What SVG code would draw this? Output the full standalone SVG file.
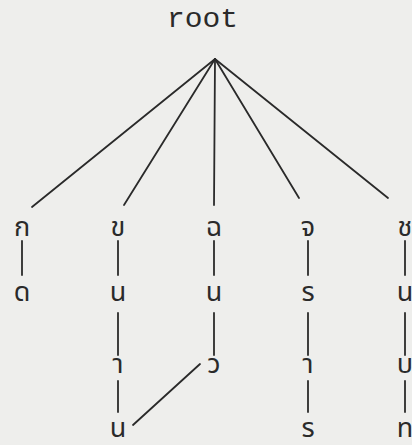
<svg xmlns="http://www.w3.org/2000/svg" width="412" height="445" viewBox="0 0 412 445">
<style>
.bg{fill:#eeeeec}
.e{stroke:#2a2a2a;stroke-width:1.8;fill:none;stroke-linecap:round}
.t{font-family:"Noto Sans Thai","Noto Serif Thai","Loma","Garuda","DejaVu Sans",sans-serif;font-size:27px;fill:#2a2a2a;text-anchor:middle}
.r{font-family:"Liberation Mono",monospace;font-size:28px;fill:#2a2a2a}
</style>
<rect class="bg" width="412" height="445"/>
<g id="connectors">
<line class="e" x1="215" y1="59" x2="32" y2="207"/>
<line class="e" x1="215" y1="59" x2="124" y2="205"/>
<line class="e" x1="215" y1="59" x2="214" y2="205"/>
<line class="e" x1="215" y1="59" x2="299" y2="198"/>
<line class="e" x1="215" y1="59" x2="388" y2="198"/>
<line class="e" x1="22" y1="241" x2="22" y2="275"/>
<line class="e" x1="118" y1="241" x2="118" y2="275"/>
<line class="e" x1="214" y1="241" x2="214" y2="275"/>
<line class="e" x1="308" y1="241" x2="308" y2="275"/>
<line class="e" x1="405" y1="241" x2="405" y2="275"/>
<line class="e" x1="118" y1="313" x2="118" y2="355"/>
<line class="e" x1="214" y1="313" x2="214" y2="355"/>
<line class="e" x1="308" y1="313" x2="308" y2="355"/>
<line class="e" x1="405" y1="313" x2="405" y2="355"/>
<line class="e" x1="118" y1="381" x2="118" y2="412"/>
<line class="e" x1="308" y1="381" x2="308" y2="412"/>
<line class="e" x1="405" y1="381" x2="405" y2="412"/>
<line class="e" x1="200" y1="364" x2="133" y2="425"/>
</g>
<g id="root"><text class="r" x="167" y="27" textLength="71" lengthAdjust="spacingAndGlyphs">root</text></g>
<g id="n_k"><text class="t" x="22" y="236">ก</text></g>
<g id="n_d"><text class="t" x="22" y="301">ด</text></g>
<g id="n_kh"><text class="t" x="118" y="236">ข</text></g>
<g id="n_kh_n"><text class="t" x="118" y="301">น</text></g>
<g id="n_kh_a"><text class="t" x="118" y="373">า</text></g>
<g id="n_kh_n2"><text class="t" x="118" y="437">น</text></g>
<g id="n_ch"><text class="t" x="214" y="236">ฉ</text></g>
<g id="n_ch_n"><text class="t" x="214" y="301">น</text></g>
<g id="n_ch_w"><text class="t" x="214" y="373">ว</text></g>
<g id="n_j"><text class="t" x="308" y="236">จ</text></g>
<g id="n_j_r"><text class="t" x="308" y="301">ร</text></g>
<g id="n_j_a"><text class="t" x="308" y="373">า</text></g>
<g id="n_j_r2"><text class="t" x="308" y="437">ร</text></g>
<g id="n_cho"><text class="t" x="405" y="236">ช</text></g>
<g id="n_cho_n"><text class="t" x="405" y="301">น</text></g>
<g id="n_cho_b"><text class="t" x="405" y="373">บ</text></g>
<g id="n_cho_th"><text class="t" x="405" y="437">ท</text></g>
</svg>
